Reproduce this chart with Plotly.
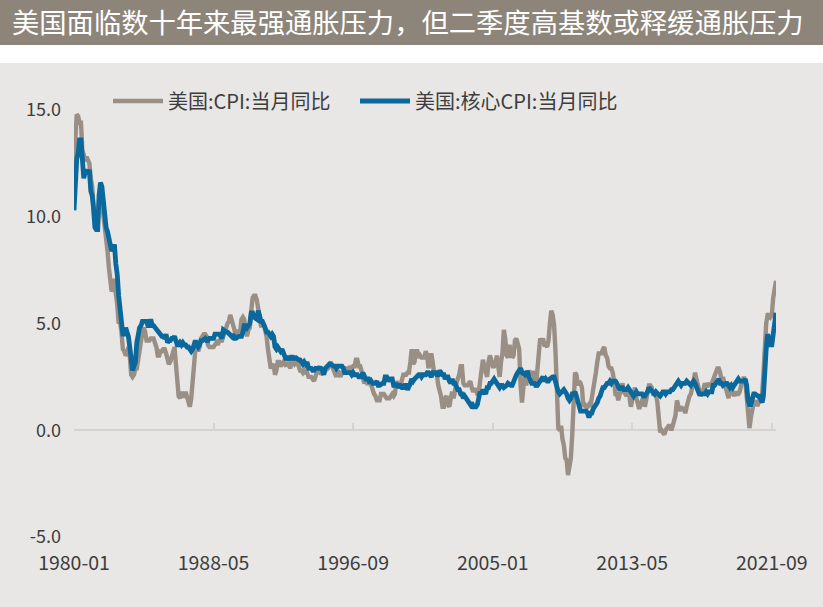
import pandas as pd
import plotly.graph_objects as go

# ── Data: US CPI / core CPI, YoY %, monthly 1980-01 .. 2021-12 ─────────────
START_MONTH = "1980-01-01"

cpi_yoy = [
    12.5, 14.2, 14.8, 14.7, 14.4, 14.4, 13.1, 12.9, 12.6, 12.8, 12.6, 12.5,  # 1980
    11.8, 11.4, 10.5, 10.0, 9.8, 9.6, 10.8, 10.8, 11.0, 10.1, 9.6, 8.9,      # 1981
    8.4, 7.6, 6.8, 6.5, 6.7, 7.1, 6.4, 5.9, 5.0, 5.1, 4.6, 3.8,              # 1982
    3.7, 3.5, 3.6, 3.9, 3.5, 2.6, 2.5, 2.6, 2.9, 2.9, 3.3, 3.8,              # 1983
    4.2, 4.6, 4.8, 4.6, 4.2, 4.2, 4.2, 4.3, 4.3, 4.3, 4.1, 3.9,              # 1984
    3.5, 3.5, 3.7, 3.7, 3.8, 3.8, 3.6, 3.3, 3.1, 3.2, 3.5, 3.8,              # 1985
    3.9, 3.1, 2.2, 1.6, 1.5, 1.8, 1.6, 1.6, 1.8, 1.5, 1.3, 1.1,              # 1986
    1.5, 2.1, 3.0, 3.8, 3.9, 3.7, 3.9, 4.3, 4.4, 4.5, 4.5, 4.4,              # 1987
    4.0, 3.9, 3.9, 3.9, 3.9, 4.0, 4.1, 4.0, 4.2, 4.2, 4.2, 4.4,              # 1988
    4.7, 4.8, 5.0, 5.1, 5.4, 5.2, 5.0, 4.7, 4.3, 4.5, 4.7, 4.6,              # 1989
    5.2, 5.3, 5.2, 4.7, 4.4, 4.7, 4.8, 5.6, 6.2, 6.3, 6.3, 6.1,              # 1990
    5.7, 5.3, 4.9, 4.9, 5.0, 4.7, 4.4, 3.8, 3.4, 2.9, 3.0, 3.1,              # 1991
    2.6, 2.8, 3.2, 3.2, 3.0, 3.1, 3.2, 3.1, 3.0, 3.2, 3.0, 2.9,              # 1992
    3.3, 3.2, 3.1, 3.2, 3.2, 3.0, 2.8, 2.8, 2.7, 2.8, 2.7, 2.7,              # 1993
    2.5, 2.5, 2.5, 2.4, 2.3, 2.5, 2.8, 2.9, 3.0, 2.6, 2.7, 2.7,              # 1994
    2.8, 2.9, 2.9, 3.1, 3.2, 3.0, 2.8, 2.6, 2.5, 2.8, 2.6, 2.5,              # 1995
    2.7, 2.7, 2.8, 2.9, 2.9, 2.8, 3.0, 2.9, 3.0, 3.0, 3.3, 3.3,              # 1996
    3.0, 3.0, 2.8, 2.5, 2.2, 2.3, 2.2, 2.2, 2.2, 2.1, 1.8, 1.7,              # 1997
    1.6, 1.4, 1.4, 1.4, 1.7, 1.7, 1.7, 1.6, 1.5, 1.5, 1.5, 1.6,              # 1998
    1.7, 1.6, 1.7, 2.3, 2.1, 2.0, 2.1, 2.3, 2.6, 2.6, 2.6, 2.7,              # 1999
    2.7, 3.2, 3.8, 3.1, 3.2, 3.7, 3.7, 3.4, 3.5, 3.4, 3.4, 3.4,              # 2000
    3.7, 3.5, 2.9, 3.3, 3.6, 3.2, 2.7, 2.7, 2.6, 2.1, 1.9, 1.6,              # 2001
    1.1, 1.1, 1.5, 1.6, 1.2, 1.1, 1.5, 1.8, 1.5, 2.0, 2.2, 2.4,              # 2002
    2.6, 3.0, 3.0, 2.2, 2.1, 2.1, 2.1, 2.2, 2.3, 2.0, 1.8, 1.9,              # 2003
    1.9, 1.7, 1.7, 2.3, 3.1, 3.3, 3.0, 2.7, 2.5, 3.2, 3.5, 3.3,              # 2004
    3.0, 3.0, 3.1, 3.5, 2.8, 2.5, 3.2, 3.6, 4.7, 4.3, 3.5, 3.4,              # 2005
    4.0, 3.6, 3.4, 3.5, 4.2, 4.3, 4.1, 3.8, 2.1, 1.3, 2.0, 2.5,              # 2006
    2.1, 2.4, 2.8, 2.6, 2.7, 2.7, 2.4, 2.0, 2.8, 3.5, 4.3, 4.1,              # 2007
    4.3, 4.0, 4.0, 3.9, 4.2, 5.0, 5.6, 5.4, 4.9, 3.7, 1.1, 0.1,              # 2008
    0.0, 0.2, -0.4, -0.7, -1.3, -1.4, -2.1, -1.5, -1.3, -0.2, 1.8, 2.7,      # 2009
    2.6, 2.1, 2.3, 2.2, 2.0, 1.1, 1.2, 1.1, 1.1, 1.2, 1.1, 1.5,              # 2010
    1.6, 2.1, 2.7, 3.2, 3.6, 3.6, 3.6, 3.8, 3.9, 3.5, 3.4, 3.0,              # 2011
    2.9, 2.9, 2.7, 2.3, 1.7, 1.7, 1.4, 1.7, 2.0, 2.2, 1.8, 1.7,              # 2012
    1.6, 2.0, 1.5, 1.1, 1.4, 1.8, 2.0, 1.5, 1.2, 1.0, 1.2, 1.5,              # 2013
    1.6, 1.1, 1.5, 2.0, 2.1, 2.1, 2.0, 1.7, 1.7, 1.7, 1.3, 0.8,              # 2014
    -0.1, 0.0, -0.1, -0.2, 0.0, 0.1, 0.2, 0.2, 0.0, 0.2, 0.5, 0.7,           # 2015
    1.4, 1.0, 0.9, 1.1, 1.0, 1.0, 0.8, 1.1, 1.5, 1.6, 1.7, 2.1,              # 2016
    2.5, 2.7, 2.4, 2.2, 1.9, 1.6, 1.7, 1.9, 2.2, 2.0, 2.2, 2.1,              # 2017
    2.1, 2.2, 2.4, 2.5, 2.8, 2.9, 2.9, 2.7, 2.3, 2.5, 2.2, 1.9,              # 2018
    1.6, 1.5, 1.9, 2.0, 1.8, 1.6, 1.8, 1.7, 1.7, 1.8, 2.1, 2.3,              # 2019
    2.5, 2.3, 1.5, 0.3, 0.1, 0.6, 1.0, 1.3, 1.4, 1.2, 1.2, 1.4,              # 2020
    1.4, 1.7, 2.6, 4.2, 5.0, 5.4, 5.4, 5.3, 5.4, 6.2, 6.8, 7.0,              # 2021
]

core_yoy = [
    10.3, 12.1, 12.7, 13.0, 13.6, 13.6, 12.4, 11.8, 12.1, 12.2, 12.0, 12.2,  # 1980
    11.2, 11.0, 10.4, 9.5, 9.4, 9.4, 11.0, 11.6, 11.4, 10.6, 9.9, 9.5,       # 1981
    9.3, 9.0, 8.6, 8.4, 8.5, 8.7, 7.8, 7.3, 6.3, 5.8, 4.9, 4.5,              # 1982
    4.5, 4.8, 4.6, 4.4, 3.9, 3.0, 2.8, 3.0, 3.2, 4.1, 4.5, 4.8,              # 1983
    4.9, 5.1, 5.1, 5.1, 5.1, 4.9, 4.9, 5.2, 4.9, 4.9, 4.8, 4.7,              # 1984
    4.6, 4.5, 4.5, 4.4, 4.4, 4.3, 4.5, 4.1, 4.2, 4.2, 4.3, 4.3,              # 1985
    4.4, 4.2, 4.0, 4.0, 4.1, 4.0, 4.1, 4.0, 4.0, 3.9, 3.9, 3.8,              # 1986
    3.7, 3.8, 4.0, 4.2, 4.0, 3.9, 4.0, 4.2, 4.2, 4.3, 4.3, 4.2,              # 1987
    4.2, 4.3, 4.3, 4.3, 4.3, 4.5, 4.5, 4.5, 4.5, 4.4, 4.3, 4.7,              # 1988
    4.6, 4.6, 4.6, 4.5, 4.4, 4.4, 4.5, 4.3, 4.3, 4.4, 4.4, 4.4,              # 1989
    4.4, 4.6, 4.9, 4.9, 4.8, 4.9, 5.0, 5.5, 5.5, 5.3, 5.2, 5.2,              # 1990
    5.6, 5.4, 5.1, 5.1, 5.0, 4.8, 4.6, 4.6, 4.5, 4.4, 4.5, 4.4,              # 1991
    3.9, 3.8, 3.9, 3.8, 3.7, 3.8, 3.6, 3.4, 3.3, 3.4, 3.4, 3.3,              # 1992
    3.5, 3.3, 3.4, 3.4, 3.3, 3.3, 3.3, 3.2, 3.1, 3.2, 3.1, 3.2,              # 1993
    2.9, 2.9, 2.9, 2.8, 2.8, 2.9, 2.9, 2.9, 2.9, 2.9, 2.8, 2.6,              # 1994
    2.9, 3.0, 3.0, 3.1, 3.1, 3.0, 3.0, 3.0, 2.9, 3.0, 3.0, 3.0,              # 1995
    3.0, 2.9, 2.7, 2.7, 2.7, 2.7, 2.7, 2.6, 2.7, 2.6, 2.6, 2.6,              # 1996
    2.5, 2.5, 2.5, 2.7, 2.5, 2.4, 2.4, 2.4, 2.2, 2.3, 2.2, 2.2,              # 1997
    2.2, 2.3, 2.1, 2.1, 2.2, 2.2, 2.2, 2.5, 2.5, 2.3, 2.4, 2.4,              # 1998
    2.4, 2.1, 2.1, 2.2, 2.0, 2.1, 2.1, 2.0, 2.0, 2.1, 2.1, 1.9,              # 1999
    2.0, 2.2, 2.4, 2.3, 2.4, 2.5, 2.5, 2.6, 2.6, 2.5, 2.6, 2.6,              # 2000
    2.6, 2.7, 2.7, 2.6, 2.5, 2.7, 2.7, 2.7, 2.6, 2.6, 2.8, 2.7,              # 2001
    2.6, 2.6, 2.4, 2.5, 2.5, 2.3, 2.2, 2.4, 2.2, 2.2, 2.0, 1.9,              # 2002
    1.9, 1.7, 1.7, 1.5, 1.6, 1.5, 1.5, 1.3, 1.2, 1.3, 1.1, 1.1,              # 2003
    1.1, 1.2, 1.6, 1.8, 1.7, 1.9, 1.8, 1.7, 2.0, 2.0, 2.2, 2.2,              # 2004
    2.3, 2.4, 2.3, 2.2, 2.2, 2.0, 2.1, 2.1, 2.0, 2.1, 2.1, 2.2,              # 2005
    2.1, 2.1, 2.1, 2.3, 2.4, 2.6, 2.7, 2.8, 2.9, 2.7, 2.6, 2.6,              # 2006
    2.7, 2.7, 2.5, 2.3, 2.2, 2.2, 2.2, 2.1, 2.1, 2.2, 2.3, 2.4,              # 2007
    2.5, 2.3, 2.4, 2.3, 2.3, 2.4, 2.5, 2.5, 2.5, 2.2, 2.0, 1.8,              # 2008
    1.7, 1.8, 1.8, 1.9, 1.8, 1.7, 1.5, 1.4, 1.5, 1.7, 1.7, 1.8,              # 2009
    1.6, 1.3, 1.1, 0.9, 0.9, 0.9, 0.9, 0.9, 0.8, 0.6, 0.8, 0.8,              # 2010
    1.0, 1.1, 1.2, 1.3, 1.5, 1.6, 1.8, 2.0, 2.0, 2.1, 2.2, 2.2,              # 2011
    2.3, 2.2, 2.3, 2.3, 2.3, 2.2, 2.1, 1.9, 2.0, 2.0, 1.9, 1.9,              # 2012
    1.9, 2.0, 1.9, 1.7, 1.7, 1.6, 1.7, 1.8, 1.7, 1.7, 1.7, 1.7,              # 2013
    1.6, 1.6, 1.7, 1.8, 2.0, 1.9, 1.9, 1.7, 1.7, 1.8, 1.7, 1.6,              # 2014
    1.6, 1.7, 1.8, 1.8, 1.7, 1.8, 1.8, 1.8, 1.9, 1.9, 2.0, 2.1,              # 2015
    2.2, 2.3, 2.2, 2.1, 2.2, 2.2, 2.2, 2.3, 2.2, 2.1, 2.1, 2.2,              # 2016
    2.3, 2.2, 2.0, 1.9, 1.7, 1.7, 1.7, 1.7, 1.7, 1.8, 1.7, 1.8,              # 2017
    1.8, 1.8, 2.1, 2.1, 2.2, 2.3, 2.4, 2.2, 2.2, 2.1, 2.2, 2.2,              # 2018
    2.2, 2.1, 2.0, 2.1, 2.0, 2.1, 2.2, 2.4, 2.4, 2.3, 2.3, 2.3,              # 2019
    2.3, 2.4, 2.1, 1.4, 1.2, 1.2, 1.6, 1.7, 1.7, 1.6, 1.6, 1.6,              # 2020
    1.4, 1.3, 1.6, 3.0, 3.8, 4.5, 4.3, 4.0, 4.0, 4.6, 4.9, 5.5,              # 2021
]

series_names = ["美国:CPI:当月同比", "美国:核心CPI:当月同比"]
y_ticks = [-5.0, 0.0, 5.0, 10.0, 15.0]
TICK_EVERY = 100  # months between x labels
TITLE = "美国面临数十年来最强通胀压力，但二季度高基数或释缓通胀压力"

# ── Style ───────────────────────────────────────────────────────────────────
FONT = "Noto Sans CJK SC"
C_CPI = "#998f84"
C_CORE = "#0b689c"
C_BG = "#e8e7e5"
C_BAR = "#8d857a"
C_AXIS = "#d5d3d0"
C_TEXT = "#3d3d3d"

W, H = 823, 607
M_L, M_R, M_T, M_B = 74, 47, 110, 70
PLOT_W = W - M_L - M_R
PLOT_H = H - M_T - M_B


def paper_x(px):
    return (px - M_L) / PLOT_W


def paper_y(px):
    """pixel row from the top of the figure -> paper y"""
    return 1 + (M_T - px) / PLOT_H


def legend_box(px):
    return dict(orientation="h", xref="paper", yref="paper",
                x=paper_x(px), xanchor="left", y=paper_y(101), yanchor="middle",
                bgcolor="rgba(0,0,0,0)", itemwidth=50,
                font=dict(family=FONT, size=20, color=C_TEXT))


months = pd.date_range(START_MONTH, periods=len(cpi_yoy), freq="MS")
tick_months = months[::TICK_EVERY]

fig = go.Figure()
# invisible copy on x2 so the zero-line tick axis gets drawn
fig.add_trace(go.Scatter(x=months, y=cpi_yoy, xaxis="x2", mode="lines",
                         line=dict(width=0), hoverinfo="skip", showlegend=False))
fig.add_trace(go.Scatter(x=months, y=cpi_yoy, mode="lines", name=series_names[0],
                         line=dict(color=C_CPI, width=4.4), legend="legend"))
fig.add_trace(go.Scatter(x=months, y=core_yoy, mode="lines", name=series_names[1],
                         line=dict(color=C_CORE, width=4.8), legend="legend2"))

# title bar + white band above the chart body
fig.add_shape(type="rect", xref="paper", yref="paper", x0=-0.2, x1=1.2,
              y0=paper_y(45), y1=paper_y(-2), fillcolor=C_BAR, line_width=0, layer="below")
fig.add_shape(type="rect", xref="paper", yref="paper", x0=-0.2, x1=1.2,
              y0=paper_y(63), y1=paper_y(45), fillcolor="#ffffff", line_width=0, layer="below")

fig.update_layout(
    width=W, height=H,
    margin=dict(l=M_L, r=M_R, t=M_T, b=M_B),
    paper_bgcolor=C_BG, plot_bgcolor=C_BG,
    font=dict(family=FONT, color=C_TEXT, size=18),
    title=dict(text=TITLE, x=12 / W, xanchor="left", xref="container",
               y=1 - 23 / H, yanchor="middle", yref="container",
               font=dict(family=FONT, color="#ffffff", size=27.3)),
    showlegend=True,
    legend=legend_box(108),
    legend2=legend_box(355),
    xaxis=dict(range=[months[0], months[-1]], tickvals=tick_months,
               ticktext=[m.strftime("%Y-%m") for m in tick_months],
               showgrid=False, zeroline=False, showline=False, ticks="",
               ticklabelstandoff=12, tickfont=dict(size=19.5, color=C_TEXT)),
    xaxis2=dict(overlaying="x", matches="x", anchor="free",
                position=(0 - y_ticks[0]) / (y_ticks[-1] - y_ticks[0]),
                side="bottom", tickvals=tick_months, ticks="inside", ticklen=7,
                tickwidth=2, tickcolor=C_AXIS, showticklabels=False,
                showgrid=False, zeroline=False, showline=False),
    yaxis=dict(range=[y_ticks[0], y_ticks[-1]], tickvals=y_ticks,
               ticktext=[f"{v:.1f}" for v in y_ticks],
               showgrid=False, zeroline=True, zerolinecolor=C_AXIS, zerolinewidth=2,
               showline=False, ticklabelstandoff=12,
               tickfont=dict(size=18, color=C_TEXT)),
)

fig.write_html("out.html", config={"displayModeBar": False},
               post_script="document.body.style.margin='0';"
                           "document.body.style.overflow='hidden';")
